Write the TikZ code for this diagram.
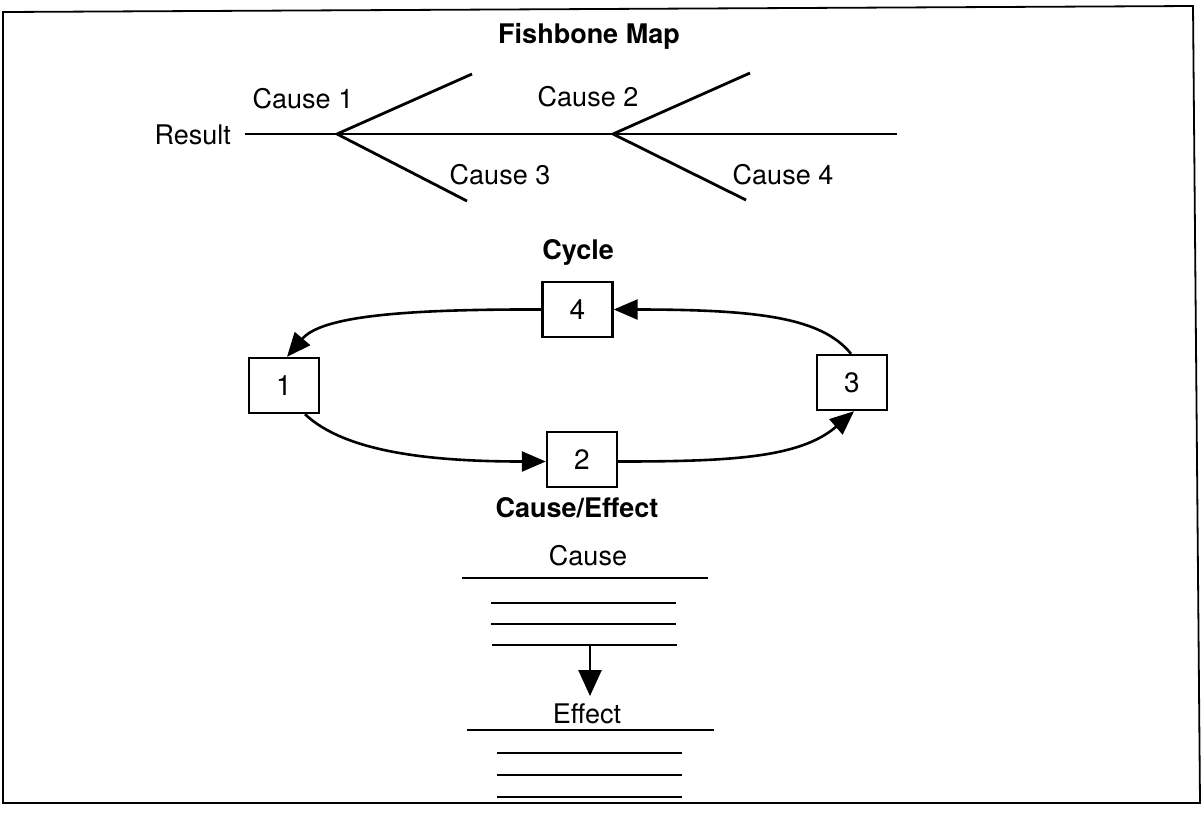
\documentclass[tikz,border=0pt]{standalone}
\usepackage{fontspec}
\setmainfont{TeX Gyre Heros}
\usetikzlibrary{arrows.meta}
\begin{document}
\begin{tikzpicture}[x=1pt,y=-1pt,
  lbl/.style={font=\fontsize{27}{30}\selectfont, inner sep=0pt, anchor=base},
  ttl/.style={font=\fontsize{27}{30}\selectfont\bfseries, inner sep=0pt, anchor=base},
  numbox/.style={draw, line width=2.4pt, minimum width=70pt, minimum height=55pt, font=\fontsize{28}{30}\selectfont, inner sep=0pt, fill=white},
  bone/.style={line width=2.8pt},
  flow/.style={line width=2.6pt, -{Triangle[length=24pt,width=20pt]}},
  drop/.style={line width=2.6pt, -{Triangle[length=26pt,width=23pt]}},
  rulebig/.style={line width=2.6pt},
  frame/.style={line width=1.8pt}]
\useasboundingbox (0,0) rectangle (1201,815);
% frame
\coordinate (f1) at (3,12);
\coordinate (f2) at (1193,6);
\coordinate (f3) at (1200,803);
\coordinate (f4) at (3,803);
\draw[frame] (f1) -- (f2) -- (f3) -- (f4) -- cycle;

% ---------- Fishbone Map ----------
\node[ttl] (tfish) at (589,43) {Fishbone Map};
\coordinate (s0) at (245,134);
\coordinate (s1) at (897,134);
\coordinate (A) at (337,134);
\coordinate (B) at (613,134);
\coordinate (A1) at (472,74);
\coordinate (A2) at (467,201);
\coordinate (B1) at (750,73);
\coordinate (B2) at (746,200);
\draw[bone] (s0) -- (s1);
\draw[bone] (A) -- (A1);
\draw[bone] (A) -- (A2);
\draw[bone] (B) -- (B1);
\draw[bone] (B) -- (B2);
\node[lbl, anchor=base east] (result) at (231,144) {Result};
\node[lbl] (c1) at (303,108) {Cause 1};
\node[lbl] (c2) at (588,106) {Cause 2};
\node[lbl] (c3) at (500,184) {Cause 3};
\node[lbl] (c4) at (783,184) {Cause 4};

% ---------- Cycle ----------
\node[ttl] (tcycle) at (578,259) {Cycle};
\node[numbox] (b4) at (577.5,309.5) {4};
\node[numbox] (b1) at (284,385.5) {1};
\node[numbox] (b3) at (852,382.5) {3};
\node[numbox] (b2) at (582,459.5) {2};
\draw[flow] (b4.west) .. controls (390,309) and (320,318) .. ([xshift=3pt]b1.north);
\draw[flow] ([xshift=-1pt]b3.north) .. controls (822,318) and (760,309.5) .. (b4.east);
\draw[flow] ([xshift=21pt]b1.south) .. controls (345,452) and (430,461.5) .. ([yshift=-2pt]b2.west);
\draw[flow] ([yshift=-2pt]b2.east) .. controls (730,461.5) and (800,458) .. ([xshift=2pt]b3.south);

% ---------- Cause/Effect ----------
\node[ttl] (tce) at (577,517) {Cause/Effect};
\node[lbl] (cause) at (588,565) {Cause};
\coordinate (ca1) at (462,578); \coordinate (ca2) at (708,578);
\coordinate (cb1) at (491,603); \coordinate (cb2) at (676,603);
\coordinate (cc1) at (491,624); \coordinate (cc2) at (676,624);
\coordinate (cd1) at (492,645); \coordinate (cd2) at (677,645);
\draw[rulebig] (ca1) -- (ca2);
\draw[rulebig] (cb1) -- (cb2);
\draw[rulebig] (cc1) -- (cc2);
\draw[rulebig] (cd1) -- (cd2);
\coordinate (ar0) at (590,645);
\coordinate (ar1) at (590,696);
\draw[drop] (ar0) -- (ar1);
\node[lbl] (effect) at (587,723) {Effect};
\coordinate (ea1) at (467,730); \coordinate (ea2) at (714,730);
\coordinate (eb1) at (497,753); \coordinate (eb2) at (682,753);
\coordinate (ec1) at (497,775); \coordinate (ec2) at (682,775);
\coordinate (ed1) at (497,797); \coordinate (ed2) at (682,797);
\draw[rulebig] (ea1) -- (ea2);
\draw[rulebig] (eb1) -- (eb2);
\draw[rulebig] (ec1) -- (ec2);
\draw[rulebig] (ed1) -- (ed2);
\end{tikzpicture}
\end{document}
